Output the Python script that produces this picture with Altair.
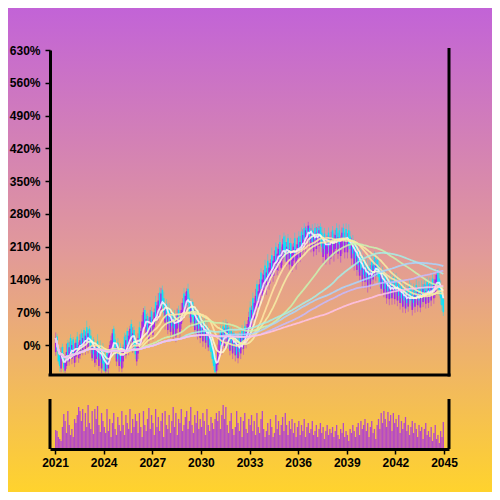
import altair as alt
import pandas as pd

# ---------------- data (monthly, 2021-01 .. 2044-12) ----------------
CLOSE = [
    15, -10, -35, -45, -20, -30, -50, -35, -15, -25, -5, -15,
    0, -20, -10, 5, -15, 0, 10, -5, 15, 5, 20, 10,
    25, 5, -10, 0, -20, -10, -5, -25, -15, -30, -20, -40,
    -55, -35, -50, -20, 0, 10, 25, 5, -20, -5, -30, -15,
    -35, -20, -5, -15, 10, 0, 20, 35, 15, 25, 0, -20,
    -5, 15, 5, 30, 50, 70, 45, 55, 30, 45, 60, 40,
    55, 70, 60, 85, 95, 80, 110, 90, 70, 80, 55, 65,
    45, 60, 40, 55, 35, 50, 65, 45, 60, 75, 90, 80,
    105, 115, 90, 70, 80, 60, 50, 65, 40, 55, 35, 45,
    25, 40, 20, 35, 10, 25, 0, -15, -30, -45, -58, -40,
    -10, 15, 0, 25, 10, 30, 15, 35, 5, 20, 0, 15,
    -5, 10, -20, 5, -15, 15, 0, 25, 10, 35, 45, 60,
    50, 75, 65, 90, 105, 95, 115, 130, 120, 140, 150, 135,
    155, 145, 165, 175, 160, 180, 190, 175, 195, 205, 185, 200,
    215, 200, 190, 210, 195, 205, 185, 200, 210, 195, 205, 215,
    200, 220, 210, 235, 225, 245, 240, 255, 230, 240, 220, 235,
    225, 240, 230, 245, 225, 210, 220, 205, 215, 225, 210, 220,
    230, 215, 225, 235, 220, 230, 215, 225, 240, 225, 230, 220,
    230, 215, 205, 215, 195, 205, 185, 190, 170, 180, 160, 165,
    150, 165, 145, 155, 140, 160, 150, 170, 160, 175, 155, 145,
    135, 150, 130, 140, 120, 130, 115, 125, 110, 130, 120, 125,
    115, 125, 105, 120, 100, 110, 95, 105, 90, 110, 100, 95,
    105, 90, 110, 100, 115, 95, 110, 100, 120, 105, 115, 110,
    120, 105, 125, 115, 130, 140, 150, 130, 115, 100, 85, 70,
]

OPEN = [
    -15, 18, -10, -23, -50, -4, -22, -55, -45, 5, -35, 15,
    -30, 12, -38, -25, 18, -28, -22, 25, -15, 32, -12, 38,
    -8, 35, 20, -28, 12, -38, -30, 8, -45, 0, -50, -8,
    -20, -56, -15, -50, -30, -22, -8, 35, 12, -35, 5, -45,
    -5, -50, -35, 18, -22, 30, -12, 5, 45, -8, 32, 12,
    -35, -18, 38, -2, 18, 38, 75, 25, 62, 12, 28, 72,
    22, 38, 92, 55, 62, 112, 75, 118, 100, 48, 88, 32,
    78, 28, 70, 22, 65, 18, 35, 75, 28, 45, 58, 110,
    72, 85, 120, 100, 48, 92, 80, 32, 72, 22, 65, 15,
    55, 8, 50, 5, 40, -5, 30, 15, 0, -15, -25, -56,
    -42, -15, 30, -8, 40, -2, 45, 2, 38, -12, 30, -18,
    25, -22, 15, -28, 20, -18, 30, -8, 40, 2, 15, 28,
    80, 40, 100, 55, 70, 130, 80, 95, 155, 105, 118, 170,
    120, 180, 130, 145, 192, 148, 158, 210, 160, 172, 220, 165,
    182, 232, 220, 178, 228, 172, 218, 168, 180, 228, 172, 185,
    232, 188, 242, 200, 250, 212, 250, 222, 250, 208, 245, 200,
    250, 205, 250, 212, 252, 240, 188, 238, 182, 195, 240, 185,
    195, 245, 192, 205, 250, 195, 245, 190, 205, 250, 198, 248,
    198, 245, 232, 185, 225, 172, 215, 160, 200, 148, 190, 135,
    180, 135, 172, 125, 168, 130, 178, 140, 188, 148, 182, 170,
    162, 120, 158, 112, 148, 100, 142, 98, 138, 100, 145, 98,
    142, 95, 132, 90, 128, 82, 122, 78, 118, 82, 128, 120,
    75, 118, 82, 128, 85, 122, 80, 125, 92, 130, 88, 135,
    90, 132, 95, 142, 100, 112, 120, 155, 142, 128, 112, 98,
]

WICK_HI = [
    12, 6, 9, 4, 15, 7, 5, 10, 18, 6, 12, 8,
    9, 5, 14, 7, 10, 6, 13, 8, 11, 5, 9, 14,
    8, 6, 12, 9, 5, 11, 7, 15, 6, 10, 8, 12,
    6, 9, 5, 13, 8, 10, 9, 6, 12, 7, 10, 5,
    9, 11, 6, 8, 12, 7, 10, 6, 9, 13, 8, 10,
    7, 10, 12, 6, 14, 9, 8, 11, 7, 12, 15, 9,
    10, 8, 13, 7, 16, 11, 12, 9, 14, 8, 10, 7,
    12, 9, 8, 14, 10, 7, 13, 9, 11, 15, 10, 12,
    8, 6, 11, 9, 13, 7, 12, 10, 8, 11, 9, 13,
    10, 7, 12, 8, 11, 9, 6, 10, 8, 7, 5, 9,
    11, 8, 13, 9, 12, 7, 10, 14, 8, 11, 9, 12,
    7, 12, 9, 14, 8, 11, 13, 9, 12, 10, 8, 11,
    13, 9, 12, 10, 15, 8, 14, 11, 9, 13, 10, 12,
    9, 14, 11, 8, 16, 10, 12, 9, 13, 11, 15, 10,
    12, 8, 14, 10, 9, 13, 11, 15, 8, 12, 10, 14,
    11, 13, 9, 12, 10, 8, 4, 8, 6, 10, 13, 9,
    10, 12, 9, 9, 8, 13, 10, 12, 14, 9, 11, 13,
    12, 9, 13, 11, 10, 10, 12, 9, 11, 9, 10, 12,
    9, 13, 11, 14, 10, 12, 9, 13, 11, 10, 14, 12,
    13, 10, 12, 9, 14, 11, 13, 10, 12, 9, 11, 14,
    10, 12, 9, 13, 11, 14, 10, 12, 13, 9, 11, 10,
    12, 9, 14, 10, 13, 11, 9, 12, 10, 14, 11, 13,
    11, 13, 10, 12, 9, 14, 11, 13, 10, 12, 14, 11,
    10, 12, 9, 13, 11, 10, 12, 9, 11, 10, 13, 8,
]

WICK_LO = [
    8, 10, 6, 12, 8, 7, 8, 5, 6, 13, 9, 10,
    11, 7, 9, 12, 6, 10, 8, 13, 7, 11, 9, 6,
    10, 12, 8, 6, 11, 9, 13, 7, 10, 8, 10, 14,
    3, 4, 8, 12, 9, 6, 11, 13, 8, 10, 7, 12,
    11, 8, 13, 9, 7, 12, 10, 8, 11, 9, 13, 10,
    9, 12, 10, 8, 13, 11, 9, 12, 14, 10, 8, 11,
    12, 10, 14, 9, 11, 13, 8, 12, 10, 15, 11, 9,
    10, 13, 11, 9, 14, 12, 10, 8, 13, 11, 9, 12,
    11, 9, 13, 12, 10, 14, 11, 9, 12, 10, 13, 11,
    9, 12, 10, 13, 11, 8, 12, 10, 9, 8, 2, 6,
    12, 10, 9, 13, 11, 10, 12, 9, 13, 10, 11, 12,
    10, 13, 8, 11, 9, 12, 10, 13, 11, 9, 12, 10,
    12, 11, 13, 10, 14, 12, 11, 13, 10, 12, 14, 11,
    13, 10, 12, 14, 11, 13, 10, 12, 11, 14, 12, 10,
    11, 14, 12, 10, 13, 11, 14, 12, 10, 13, 11, 12,
    14, 11, 13, 10, 12, 14, 11, 13, 12, 10, 14, 11,
    12, 13, 10, 14, 11, 12, 13, 11, 10, 14, 12, 13,
    11, 12, 14, 10, 13, 11, 12, 14, 10, 12, 13, 11,
    13, 11, 12, 14, 10, 13, 11, 12, 14, 11, 12, 13,
    12, 14, 11, 13, 12, 10, 14, 11, 13, 12, 10, 14,
    11, 13, 12, 10, 14, 12, 11, 13, 10, 14, 12, 11,
    13, 12, 10, 14, 11, 13, 12, 10, 14, 11, 13, 12,
    12, 10, 13, 11, 14, 12, 10, 13, 11, 12, 10, 13,
    11, 13, 12, 10, 12, 11, 13, 12, 10, 14, 12, 8,
]

VOLUME = [
    19, 18, 12, 10, 8, 22, 35, 28, 16, 38, 24, 14,
    20, 12, 30, 26, 34, 42, 38, 28, 40, 18, 36, 22,
    44, 26, 20, 38, 15, 40, 30, 43, 24, 17, 36, 28,
    22, 16, 40, 18, 30, 12, 26, 36, 20, 14, 32, 24,
    18, 38, 24, 14, 34, 26, 20, 40, 16, 30, 22, 35,
    28, 16, 36, 22, 12, 38, 24, 18, 30, 41, 20, 34,
    26, 14, 40, 22, 32, 18, 28, 36, 12, 38, 24, 20,
    34, 16, 28, 42, 22, 36, 14, 30, 26, 40, 18, 24,
    32, 38, 20, 28, 42, 24, 16, 34, 26, 38, 20, 30,
    22, 36, 28, 14, 40, 24, 18, 32, 26, 20, 30, 36,
    28, 38, 20, 34, 44, 30, 42, 24, 16, 28, 36, 20,
    14, 22, 38, 26, 18, 32, 12, 28, 36, 20, 16, 30,
    24, 34, 18, 28, 14, 36, 22, 16, 30, 38, 20, 12,
    18, 26, 14, 30, 22, 12, 16, 34, 20, 28, 14, 24,
    32, 18, 36, 24, 14, 28, 20, 30, 16, 26, 12, 22,
    28, 14, 24, 18, 30, 12, 22, 26, 16, 20, 28, 14,
    18, 24, 12, 20, 26, 16, 22, 10, 18, 24, 14, 20,
    16, 22, 12, 18, 24, 14, 10, 20, 16, 26, 12, 18,
    14, 8, 20, 16, 24, 18, 12, 22, 26, 14, 28, 20,
    24, 30, 18, 26, 12, 22, 28, 16, 20, 10, 24, 30,
    20, 36, 26, 38, 30, 22, 37, 28, 34, 18, 36, 26,
    30, 22, 34, 16, 28, 20, 26, 32, 18, 24, 14, 22,
    28, 16, 26, 20, 12, 24, 18, 22, 10, 20, 26, 14,
    18, 12, 22, 8, 16, 24, 10, 14, 6, 18, 12, 27,
]

YEAR_TICKS = [2021, 2024, 2027, 2030, 2033, 2036, 2039, 2042, 2045]
PCT_TICKS = [0, 70, 140, 210, 280, 350, 420, 490, 560, 630]
MA_PERIODS = [5, 10, 20, 30, 60, 90, 120, 150, 200]
MA_COLORS = ["#fff2fb", "#fffbd2", "#ffe8a4", "#f6eea6", "#c9f4b2",
             "#a6efe6", "#a9d6ff", "#c6baff", "#ffc2ea"]

UP_COLOR = "#a020f0"
DOWN_COLOR = "#00e5ff"

# ---------------- build table ----------------
months = pd.date_range("2021-01-01", periods=len(CLOSE), freq="MS")
df = pd.DataFrame({
    "t": months.year + (months.month - 0.5) / 12.0,
    "open": OPEN,
    "close": CLOSE,
    "whi": WICK_HI,
    "wlo": WICK_LO,
    "volume": VOLUME,
})

one = pd.DataFrame({"k": [0]})

W, H = 399, 399
PRICE_SCALE = alt.Scale(domain=[-64, 630], range=[325, 0], nice=False, zero=False)
VOL_SCALE = alt.Scale(domain=[0, 50], range=[399, 349], nice=False)
X_SCALE = alt.Scale(domain=[2021, 2045], nice=False, zero=False)
X_AXIS = alt.Axis(values=YEAR_TICKS, format="d", title=None, grid=False,
                  labelFlush=False, labelOverlap=False, labelPadding=3,
                  tickSize=5, tickWidth=1.5, domainWidth=3, zindex=2)
Y_AXIS = alt.Axis(values=PCT_TICKS, labelExpr="datum.value + '%'", title=None,
                  grid=False, tickSize=5, tickWidth=1.5, labelPadding=5,
                  domainWidth=3, labelOverlap=False, labelFlush=False, zindex=2)

X = alt.X("t:Q", scale=X_SCALE, axis=X_AXIS)

# background gradient
bg = alt.Chart(one).mark_rect(
    fill={"gradient": "linear", "x1": 0, "y1": 0, "x2": 0, "y2": 1,
          "stops": [{"offset": 0, "color": "#c263d7"},
                    {"offset": 0.5, "color": "#e1999a"},
                    {"offset": 1, "color": "#ffd32d"}]},
    stroke=None,
).encode(x=alt.value(-42), x2=alt.value(W + 43), y=alt.value(-42), y2=alt.value(H + 43))

vol = alt.Chart(df).mark_bar(size=1.3, color=UP_COLOR, opacity=0.75).encode(
    x=X,
    y=alt.Y("volume:Q", scale=VOL_SCALE, axis=None),
)

candles = alt.Chart(df).transform_calculate(
    high="max(datum.open, datum.close) + datum.whi",
    low="min(datum.open, datum.close) - datum.wlo",
)
col = alt.condition("datum.close >= datum.open", alt.value(UP_COLOR), alt.value(DOWN_COLOR))

wicks = candles.mark_rule(strokeWidth=1, opacity=0.45).encode(
    x=X,
    y=alt.Y("low:Q", scale=PRICE_SCALE, axis=None),
    y2="high:Q",
    color=col,
)
bodies = candles.mark_bar(size=1.6, opacity=0.92).encode(
    x=X,
    y=alt.Y("open:Q", scale=PRICE_SCALE, axis=Y_AXIS),
    y2="close:Q",
    color=col,
)

ma_names = [f"ma{p}" for p in MA_PERIODS]
ma = alt.Chart(df)
for p in MA_PERIODS:
    ma = ma.transform_window(**{f"ma{p}": "mean(close)"}, frame=[-(p - 1), 0],
                             sort=[alt.SortField("t", order="ascending")])
ma = ma.transform_fold(ma_names, as_=["ma", "val"]).mark_line(
    strokeWidth=1.8, opacity=0.85
).encode(
    x=X,
    y=alt.Y("val:Q", scale=PRICE_SCALE, axis=None),
    color=alt.Color("ma:N", scale=alt.Scale(domain=ma_names, range=MA_COLORS), legend=None),
    detail="ma:N",
)

rule_style = dict(color="black", strokeWidth=3)
r1 = alt.Chart(one).mark_rule(**rule_style).encode(
    x=alt.value(-1.5), x2=alt.value(W + 1.5), y=alt.value(325))
r2 = alt.Chart(one).mark_rule(**rule_style).encode(
    x=alt.value(W), y=alt.value(-2), y2=alt.value(326.5))
r3 = alt.Chart(one).mark_rule(**rule_style).encode(
    x=alt.value(0), y=alt.value(349), y2=alt.value(H))
r4 = alt.Chart(one).mark_rule(**rule_style).encode(
    x=alt.value(W), y=alt.value(349), y2=alt.value(H))

chart = alt.layer(bg, vol, wicks, bodies, ma, r1, r2, r3, r4).resolve_scale(
    y="independent", color="independent"
).properties(
    width=W, height=H,
    padding={"left": 42, "top": 42, "right": 43, "bottom": 43},
    autosize=alt.AutoSizeParams(type="none"),
    background="#c263d7",
).configure_view(stroke=None).configure_axis(
    labelFont="Liberation Sans", labelFontWeight="bold", labelFontSize=12,
    labelColor="black", domainColor="black", tickColor="black",
)

chart.save("out.html", embed_options={"renderer": "svg", "actions": False})
